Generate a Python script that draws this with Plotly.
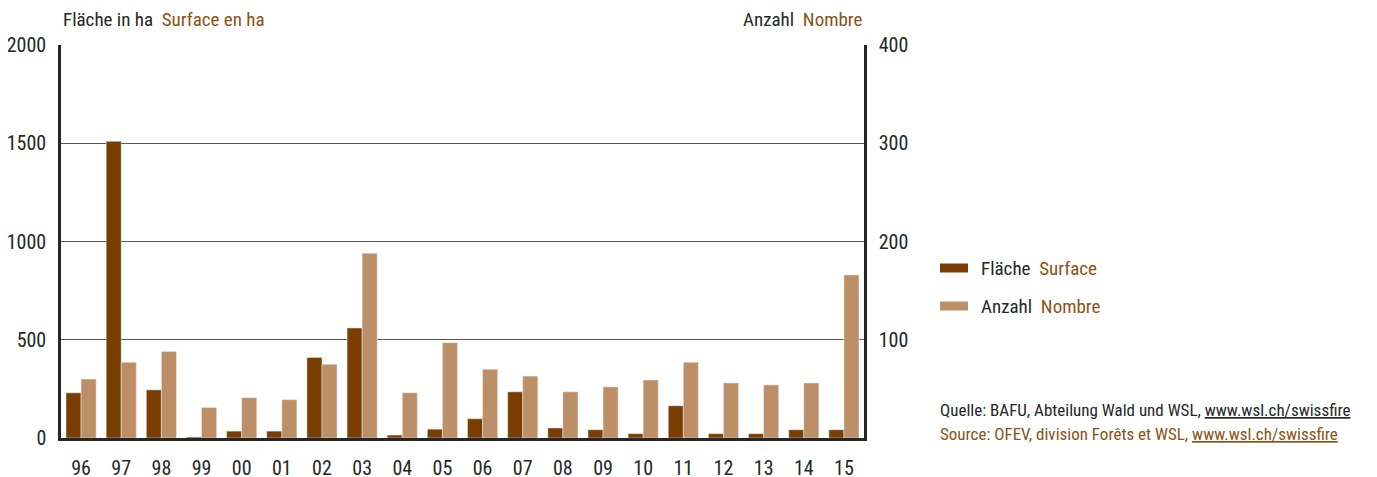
import plotly.graph_objects as go

years = ["96", "97", "98", "99", "00", "01", "02", "03", "04", "05",
         "06", "07", "08", "09", "10", "11", "12", "13", "14", "15"]
flaeche = [230, 1510, 245, 5, 35, 35, 410, 560, 15, 45,
           98, 235, 51, 42, 22, 164, 22, 22, 42, 42]
anzahl = [60, 77, 88, 31, 41, 39, 75, 188, 46, 97,
          70, 63, 47, 52, 59, 77, 56, 54, 56, 166]

left_ticks = [0, 500, 1000, 1500, 2000]
right_ticks = [100, 200, 300, 400]

dark = "#7a3e00"
light = "#bc8f66"
fr = "#8b5214"
txt = "#262626"
font = "Roboto Condensed, Liberation Sans Narrow, Arial Narrow, sans-serif"

fig = go.Figure()
fig.add_trace(go.Bar(x=years, y=flaeche, marker_color=dark, name="Fläche",
                     yaxis="y", offsetgroup="a"))
fig.add_trace(go.Bar(x=years, y=anzahl, marker_color=light, name="Anzahl",
                     yaxis="y2", offsetgroup="b"))

# page body has an 8px margin, so the figure is shifted by that much
fig.update_layout(
    width=1369, height=469,
    margin=dict(l=53, r=513, t=37, b=39, autoexpand=False),
    plot_bgcolor="white", paper_bgcolor="white",
    barmode="group", bargap=0.25, bargroupgap=0,
    showlegend=False,
    font=dict(family=font, size=19, color=txt),
    xaxis=dict(showgrid=False, showline=True, linecolor=txt, linewidth=2.5,
               ticks="", ticklabelstandoff=10, tickfont=dict(size=20),
               automargin=False),
    yaxis=dict(range=[0, 2000], tickvals=left_ticks, showgrid=True,
               gridcolor="#555555", gridwidth=1, zeroline=False,
               showline=True, linecolor=txt, linewidth=2.5,
               ticks="", ticklabelstandoff=8, tickfont=dict(size=20),
               automargin=False),
    yaxis2=dict(range=[0, 400], tickvals=right_ticks, overlaying="y", side="right",
                showgrid=False, zeroline=False, showline=True, linecolor=txt,
                linewidth=2.5, ticks="", ticklabelstandoff=8, tickfont=dict(size=20),
                automargin=False),
)

# axis titles
fig.add_annotation(xref="paper", yref="paper", x=0, y=1, yshift=26, xanchor="left",
                   yanchor="middle", showarrow=False,
                   text=f"Fläche in ha  <span style='color:{fr}'>Surface en ha</span>")
fig.add_annotation(xref="paper", yref="paper", x=1, y=1, yshift=26, xanchor="right",
                   yanchor="middle", showarrow=False,
                   text=f"Anzahl  <span style='color:{fr}'>Nombre</span>")

# legend
for i, (de, fr_name, col) in enumerate([("Fläche", "Surface", dark),
                                         ("Anzahl", "Nombre", light)]):
    yc = 268 + 38 * i
    fig.add_shape(type="rect", xref="paper", yref="paper",
                  x0=(940 - 61) / 803, x1=(968 - 61) / 803,
                  y0=(438 - yc - 4.5) / 393, y1=(438 - yc + 4.5) / 393,
                  fillcolor=col, line_width=0)
    fig.add_annotation(xref="paper", yref="paper", x=(979 - 61) / 803,
                       y=(438 - yc) / 393, xanchor="left", yanchor="middle",
                       showarrow=False, font=dict(size=19),
                       text=f"{de}  <span style='color:{fr}'>{fr_name}</span>")

# source
fig.add_annotation(xref="paper", yref="paper", x=(938 - 61) / 803, y=(438 - 410) / 393,
                   xanchor="left", yanchor="middle", showarrow=False,
                   font=dict(size=17),
                   text="Quelle: BAFU, Abteilung Wald und WSL, <u>www.wsl.ch/swissfire</u>")
fig.add_annotation(xref="paper", yref="paper", x=(938 - 61) / 803, y=(438 - 434) / 393,
                   xanchor="left", yanchor="middle", showarrow=False,
                   font=dict(size=17, color=fr),
                   text="Source: OFEV, division Forêts et WSL, <u>www.wsl.ch/swissfire</u>")

fig.write_html("out.html")
